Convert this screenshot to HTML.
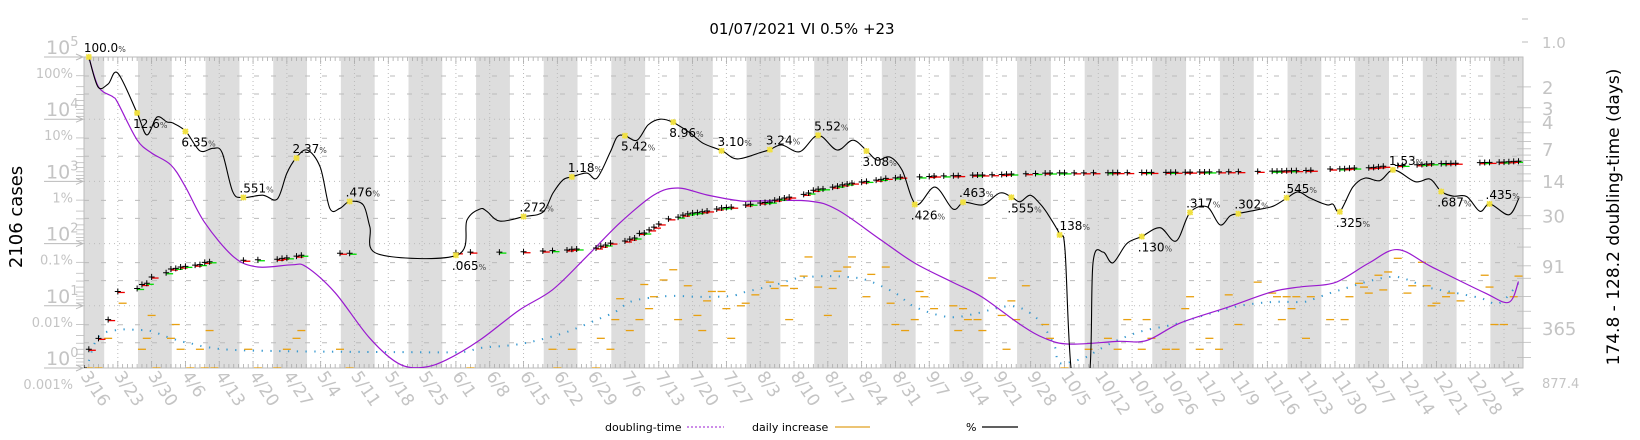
<!DOCTYPE html>
<html><head><meta charset="utf-8">
<style>
html,body{margin:0;padding:0;background:#fff;}
svg{display:block;font-family:"DejaVu Sans","Liberation Sans",sans-serif;}
</style></head>
<body>
<svg id="chart" width="1640" height="440" viewBox="0 0 1640 440" xmlns="http://www.w3.org/2000/svg">
<defs><clipPath id="plotclip"><rect x="84" y="57" width="1439" height="311"/></clipPath></defs>
<g id="bands"></g>
<g id="grid"></g>
<g id="axes"></g>
<g id="series" clip-path="url(#plotclip)"></g>
<g id="labels"></g>
<text x="802" y="34" font-size="15" text-anchor="middle" fill="#000">01/07/2021 VI 0.5% +23</text>
<text transform="translate(22,217) rotate(-90)" font-size="18" text-anchor="middle" fill="#000">2106 cases</text>
<text transform="translate(1619,217) rotate(-90)" font-size="17" text-anchor="middle" fill="#000">174.8 - 128.2 doubling-time (days)</text>
<g>
<text x="605" y="431" font-size="11" fill="#000">doubling-time</text>
<line x1="687" y1="427" x2="724" y2="427" stroke="#9a1ad0" stroke-width="1" stroke-dasharray="2 2"/>
<text x="752" y="431" font-size="11" fill="#000">daily increase</text>
<line x1="835" y1="427" x2="870" y2="427" stroke="#e0a020" stroke-width="1.2"/>
<text x="966" y="431" font-size="11" fill="#000">%</text>
<line x1="982" y1="427" x2="1018" y2="427" stroke="#000" stroke-width="1.2"/>
</g>
</svg>
<script>
// ---- data ----
const dateLabels = ["3/16","3/23","3/30","4/6","4/13","4/20","4/27","5/4","5/11","5/18","5/25","6/1","6/8","6/15","6/22","6/29","7/6","7/13","7/20","7/27","8/3","8/10","8/17","8/24","8/31","9/7","9/14","9/21","9/28","10/5","10/12","10/19","10/26","11/2","11/9","11/16","11/23","11/30","12/7","12/14","12/21","12/28","1/4"];
const caseTicks = [0,1,2,3,4,5];
const pctTickLabels = ["100%","10%","1%","0.1%","0.01%","0.001%"];
const dtTicks = ["2","3","4","7","14","30","91","365"];
// percent line (black): days since 3/16, percent
const pctDays = [1,2.9,5,7,11,13,15.1,17.2,18.4,21.1,24,26.7,28.6,30.8,32.9,37,40,42,43.9,46.2,48.9,50.9,53,55,57.8,59.2,60.9,77.2,79.3,82,83.4,86.1,91.1,95,97.1,99.2,101,104.1,106.2,108.9,110.4,112,114.5,116.8,119.3,121.9,125.5,128.2,132.1,135.2,140,142,144.5,148.2,152,155.9,159.2,162.1,164.2,166.9,169.4,172.3,176.2,179.9,182.2,186.1,189.6,192.1,193.8,195.9,197.9,199.4,202.1,203.1,204.6,208.1,208.9,211,213,215.9,219,222.8,226.1,229,232.5,235.2,237.3,238.9,242.9,246.2,249.1,251.4,253.8,257.3,258.6,260,262.7,265.2,268.3,271.2,275.6,278.7,281,283.4,286.3,289,291.1,295,297.1];
const pctVals = [100,33,37,55,12.6,5.6,10.8,9.0,8.7,6.35,3.1,3.4,2.9,0.68,0.551,0.60,0.52,1.36,2.37,3.2,1.7,0.37,0.37,0.476,0.42,0.185,0.068,0.065,0.24,0.36,0.33,0.23,0.272,0.32,0.65,1.06,1.18,1.36,1.13,2.9,5.2,5.42,4.6,8.1,10,8.96,6.0,4.1,3.10,2.3,2.9,3.24,3.85,3.0,5.52,3.2,4.6,3.08,2.2,2.46,1.5,0.426,0.81,0.36,0.463,0.42,0.65,0.555,0.47,0.60,0.44,0.31,0.138,0.079,0.0007,0.0007,0.049,0.073,0.049,0.10,0.130,0.18,0.11,0.317,0.39,0.20,0.28,0.302,0.35,0.40,0.545,0.68,0.54,0.42,0.43,0.325,0.81,1.13,1.03,1.53,0.99,1.09,0.687,0.58,0.57,0.33,0.435,0.29,0.54];
const starDays = [1,11,21,33,44,55,77,91,101,112,122,132,142,152,162,172,182,192,202,219,229,239,249,260,271,281,291];
const starVals = [100,12.6,6.35,0.551,2.37,0.476,0.065,0.272,1.18,5.42,8.96,3.10,3.24,5.52,3.08,0.426,0.463,0.555,0.138,0.130,0.317,0.302,0.545,0.325,1.53,0.687,0.435];
const starText = ["100.0","12.6","6.35",".551","2.37",".476",".065",".272","1.18","5.42","8.96","3.10","3.24","5.52","3.08",".426",".463",".555",".138",".130",".317",".302",".545",".325","1.53",".687",".435"];
const starSide = ["a","b","b","a","a","a","b","a","a","b","b","a","a","a","b","b","a","b","a","b","a","a","a","b","a","b","a"];
// doubling time (purple)
const dtDays = [1,3,6,7,11,14,18,21,25,31,36,43,46,52,59,65,70,75,82,90,97,104,111,118,123,129,136,139,150,156,165,172,180,186,194,199,204,214,220,227,237,246,252,259,266,272,279,290,295,297];
const dtVals = [1.17,2.0,2.42,2.72,5.8,7.65,9.9,15.9,35,74.6,93.4,89,93,166,447,797,877,740,474,246,155,74.6,35,19,16.3,19,21.7,21.7,21.7,26.4,51.3,85.6,132,183,340,459,520,490,480,324,227,162,145,132,85.6,63.4,93,166,205,129];
// blue dotted series
const blueDays = [1,3,7,11,14,17,20,22,25,31,45,65,78,82,89,94,100,106,110,113,117,122,128,134,137,143,148,154,158,162,168,172,179,185,190,194,198,201,202,207,210,214,219,226,232,239,246,252,254,258,262,267,272,278,283,289,293,297];
const blueVals = [1.3,3.2,4.1,4.1,3.9,3.2,2.7,2.5,2.2,1.95,1.85,1.8,1.8,2.1,2.35,2.8,3.8,5.9,8,11.5,13.4,14.4,13.9,14.4,16.7,21.6,28,30,29,26,16,9.6,6.6,7.6,9.6,9.2,5.5,2.2,1.2,1.45,1.95,2.8,3.9,5.1,7.1,9.9,11.5,11.5,12.4,16,20,26,29,20,16.7,13.4,11,23];
// daily increase (orange)
const incDays = [1,3,5,8,12,13,14,15,18,19,20,22,24,25,26,27,34,36,40,42,44,45,53,55,80,97,98,101,106,107,109,110,111,113,115,116,117,118,120,122,123,125,127,128,129,130,132,133,134,136,137,139,142,143,145,146,147,149,150,152,154,155,156,158,159,162,163,166,167,168,170,172,173,174,176,180,181,182,183,185,186,188,190,191,192,193,195,199,200,203,208,212,214,216,219,220,221,224,226,228,229,231,233,235,237,239,243,246,247,248,249,250,251,253,254,258,261,262,264,265,266,268,269,270,272,274,275,277,278,279,280,282,283,285,290,291,292,294,296,297];
const incVals = [1,1,3,11,2,3,7,1,3,5,2,1,2,1,4,1,2,1,1,2,3,4,2,1,1,2,1,2,1,3,2,6,13,4,6,22,9,14,26,38,6,21,7,4,12,17,17,9,3,10,11,15,24,19,21,6,19,30,61,20,7,19,36,42,61,14,32,42,11,5,4,6,17,14,9,10,4,9,6,6,4,28,7,2,12,6,21,5,3,1,2,3,2,6,2,6,3,2,2,9,14,2,3,2,15,5,24,16,14,6,14,9,14,3,14,6,6,14,23,20,16,31,18,35,58,16,21,50,21,10,11,14,16,12,31,20,5,5,14,30];
// cumulative cases
const cumDays = [0,1,3,5,7,11,12,13,14,17,18,19,20,21,23,24,25,26,33,36,40,41,42,44,45,53,55,77,80,86,91,95,97,100,101,102,106,107,108,109,112,113,114,115,116,117,118,119,121,123,124,125,126,127,128,129,131,132,133,134,137,138,140,141,142,143,144,145,146,149,150,151,152,153,155,156,157,158,159,161,162,164,165,166,168,169,173,175,176,178,180,181,184,185,186,188,190,191,192,195,197,199,200,202,203,205,207,209,212,213,214,216,219,220,221,224,225,226,228,229,231,232,233,235,237,239,243,246,247,248,249,250,251,253,254,258,260,261,262,263,266,267,268,269,272,273,276,277,278,279,281,282,283,284,289,290,291,293,294,295,296,297];
const cumVals = [1,2,3,6,17,19,22,23,29,34,39,40,42,43,45,46,50,51,54,55,56,58,59,63,65,70,70,71,73,73,74,76,77,79,81,82,85,91,95,102,110,118,123,146,148,166,184,207,250,267,287,300,310,315,325,335,360,375,380,385,418,430,450,458,465,500,520,540,560,620,650,720,750,760,810,840,880,910,940,980,1000,1050,1080,1120,1140,1170,1180,1200,1220,1225,1230,1240,1260,1265,1270,1280,1290,1310,1315,1330,1340,1360,1365,1368,1370,1372,1374,1378,1380,1382,1384,1386,1390,1392,1394,1398,1400,1402,1405,1410,1415,1418,1420,1425,1430,1435,1450,1460,1465,1470,1480,1485,1490,1500,1510,1580,1590,1600,1630,1640,1660,1680,1710,1750,1800,1810,1850,1870,1900,1920,1930,1940,1950,1960,2000,2010,2020,2040,2050,2070,2100,2106];

// ---- scales ----
const X0 = 84, PXD = 4.83, XR = 1523, YT = 57, YB = 368, DEC = 62.2;
const xDay = d => X0 + d * PXD;
const yCase = c => YB - Math.log10(Math.max(c, 1e-9)) * DEC;
const yPct = p => YT + (2 - Math.log10(p)) * DEC;
const yDt = t => 47.4 - 103.2 * Math.log10(Math.pow(2, 1 / t) - 1);
const NS = "http://www.w3.org/2000/svg";
function mk(tag, attrs, parent) {
  const e = document.createElementNS(NS, tag);
  for (const k in attrs) e.setAttribute(k, attrs[k]);
  parent.appendChild(e); return e;
}
function smooth(pts) {
  let d = "M" + pts[0][0].toFixed(1) + "," + pts[0][1].toFixed(1);
  for (let i = 0; i < pts.length - 1; i++) {
    const p0 = pts[Math.max(0, i - 1)], p1 = pts[i], p2 = pts[i + 1], p3 = pts[Math.min(pts.length - 1, i + 2)];
    const c1x = p1[0] + (p2[0] - p0[0]) / 6, c1y = p1[1] + (p2[1] - p0[1]) / 6;
    const c2x = p2[0] - (p3[0] - p1[0]) / 6, c2y = p2[1] - (p3[1] - p1[1]) / 6;
    d += "C" + c1x.toFixed(1) + "," + c1y.toFixed(1) + " " + c2x.toFixed(1) + "," + c2y.toFixed(1) + " " + p2[0].toFixed(1) + "," + p2[1].toFixed(1);
  }
  return d;
}
const bands = document.getElementById("bands"), grid = document.getElementById("grid"),
      axes = document.getElementById("axes"), series = document.getElementById("series"),
      labels = document.getElementById("labels");

// weekend bands (alternate weeks)
for (let i = -1; i < 22; i++) {
  const x1 = Math.max(X0, 138 + 14 * PXD * i), x2 = Math.min(XR, 138 + 14 * PXD * i + 7 * PXD);
  if (x2 <= x1) continue;
  const r = mk("rect", {x: x1, y: YT, width: x2 - x1, height: YB - YT, fill: "#dddddd"}, bands);
  
  
}
// horizontal grid
[0,1,2,3,4].forEach(k => {
  const y = YT + k * DEC;
  if (k > 0) { const l = mk("line", {x1: X0, x2: XR, y1: y, y2: y, stroke: "#bbb", "stroke-dasharray": "1 4"}, grid);
      }
  [19, 37].forEach(o => {
    const l2 = mk("line", {x1: X0, x2: XR, y1: y + o, y2: y + o, stroke: "#bbb", "stroke-dasharray": "5 12"}, grid);
     
  });
});
// vertical grid and date labels
dateLabels.forEach((lab, i) => {
  const x = xDay(i * 7);
  const l = mk("line", {x1: x, x2: x, y1: YT, y2: YB, stroke: "#bbb", "stroke-dasharray": "1 3"}, grid);
   
  const t = mk("text", {transform: `translate(${x - 4},${YB + 8}) rotate(56)`, "font-size": 17, fill: "#c4c4c4"}, axes);
  t.textContent = lab;
   
});
// day minor ticks top/bottom
for (let d = 0; d <= 297; d++) {
  const x = xDay(d), h = d % 7 === 0 ? 7 : 4;
  mk("line", {x1: x, x2: x, y1: YT, y2: YT + h, stroke: "#aaa", "stroke-width": 0.8}, axes);
  mk("line", {x1: x, x2: x, y1: YB, y2: YB - h, stroke: "#aaa", "stroke-width": 0.8}, axes);
}
// frame
const fr = mk("rect", {x: X0, y: YT, width: XR - X0, height: YB - YT, fill: "none", stroke: "#bbb", "stroke-width": 1}, axes);
 
// left axis
caseTicks.forEach(k => {
  const y = yCase(Math.pow(10, k));
  const a = mk("path", {d: `M44,${y}H83M76,${y - 3}L83,${y}L76,${y + 3}`, stroke: "#bbb", fill: "none", "stroke-width": 1}, axes);
   
  const t = mk("text", {x: 46, y: y - 3, "font-size": 19, fill: "#c4c4c4"}, axes);
  t.innerHTML = `10<tspan dy="-8" font-size="13">${k}</tspan>`;
   
  if (k > 0) for (let m = 2; m <= 9; m++) {
    const ym = y + Math.log10(m) * DEC;
    if (ym > YT) mk("line", {x1: 76, x2: 84, y1: ym, y2: ym, stroke: "#bbb", "stroke-width": 0.8}, axes);
  }
});
pctTickLabels.forEach((lab, k) => {
  const t = mk("text", {x: 73, y: 78 + k * DEC, "font-size": 13, fill: "#c4c4c4", "text-anchor": "end"}, axes);
  t.textContent = lab;
   
});
// right axis
dtTicks.forEach(lab => {
  const y = yDt(+lab);
  const t = mk("text", {x: 1542, y: y + 7, "font-size": 18, fill: "#c4c4c4"}, axes);
  t.textContent = lab;
   
});
[["1.0", 48, 15, 17], ["877.4", 388, 13, 13]].forEach(([lab, y, fs]) => {
  const t = mk("text", {x: 1542, y: y, "font-size": fs, fill: "#c4c4c4"}, axes);
  t.textContent = lab;
   
});
mk("line", {x1: 1522, x2: 1528, y1: 19, y2: 19, stroke: "#bbb"}, axes);
mk("line", {x1: 1522, x2: 1528, y1: 42, y2: 42, stroke: "#bbb"}, axes);
[2,3,4,5,6,7,8,9,10,12,14,20,30,40,60,91,120,180,250,365,500,700].forEach(t => {
  const y = yDt(t);
  if (y > YT && y < YB) mk("line", {x1: XR - 6, x2: XR + 8, y1: y, y2: y, stroke: "#bbb", "stroke-width": 0.8}, axes);
});

// blue dotted
const bp = mk("path", {d: smooth(blueDays.map((d, i) => [xDay(d), yCase(blueVals[i])])), fill: "none", stroke: "#3a9ad0", "stroke-width": 2, "stroke-dasharray": "1.3 7.5"}, series);
 
// daily increase dashes
incDays.forEach((d, i) => {
  const x = xDay(d), y = yCase(incVals[i]);
  const l = mk("line", {x1: x - 4, x2: x + 4, y1: y, y2: y, stroke: "#e8a010", "stroke-width": 1.3}, series);
   
});
// purple doubling time
const pp = mk("path", {d: smooth(dtDays.map((d, i) => [xDay(d), yDt(dtVals[i])])), fill: "none", stroke: "#9a1ad0", "stroke-width": 1.2}, series);
 
// cumulative arrows
cumDays.forEach((d, i) => {
  const x = xDay(d), y = yCase(cumVals[i]);
  const inc = i > 0 ? cumVals[i] - cumVals[i - 1] : 0;
  const prev = i > 1 ? cumVals[i - 1] - cumVals[i - 2] : 0;
  const col = inc >= prev ? "#ee0000" : "#00dd00";
  const g = mk("g", {}, series);
  
  
  mk("line", {x1: x, x2: x + 7, y1: y + 1, y2: y + 1, stroke: col, "stroke-width": 1.3}, g);
  mk("path", {d: `M${x - 3},${y}H${x + 3}M${x},${y - 3}V${y + 3}`, stroke: "#000", "stroke-width": 1}, g);
});
// percent line
const kp = mk("path", {d: smooth(pctDays.map((d, i) => [xDay(d), Math.min(yPct(pctVals[i]), 400)])), fill: "none", stroke: "#000", "stroke-width": 1.1}, series);
 
// stars + labels
starDays.forEach((d, i) => {
  const x = xDay(d), y = yPct(starVals[i]);
  const s = mk("path", {d: `M${x - 3},${y}H${x + 3}M${x},${y - 3}V${y + 3}M${x - 2.5},${y - 2.5}L${x + 2.5},${y + 2.5}M${x - 2.5},${y + 2.5}L${x + 2.5},${y - 2.5}`, stroke: "#f0e040", "stroke-width": 1.6}, labels);
   
  const ty = starSide[i] === "a" ? y - 5 : y + 15;
  const t = mk("text", {x: i === 0 ? x - 5 : x - 4, y: ty, "font-size": 12, fill: "#000"}, labels);
  t.innerHTML = `${starText[i]}<tspan font-size="8" fill="#444">%</tspan>`;
   
});
</script>
</body></html>
